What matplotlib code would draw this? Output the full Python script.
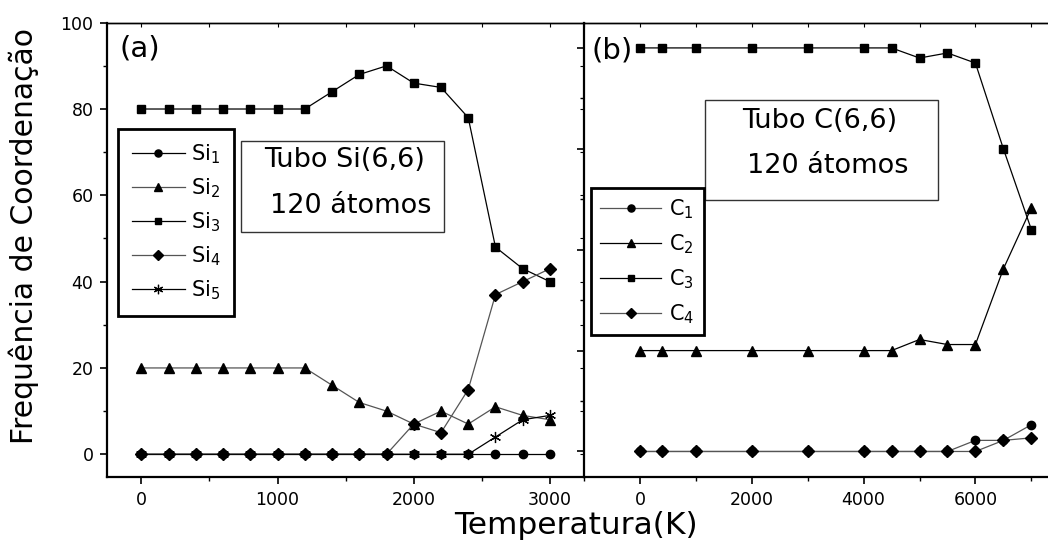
import matplotlib
matplotlib.use('Agg')
import matplotlib.pyplot as plt
from matplotlib.patches import Rectangle
from matplotlib.ticker import MultipleLocator, FixedLocator

plt.rcParams['font.family'] = ['DejaVu Sans']
plt.rcParams['mathtext.fontset'] = 'dejavusans'

# ---------------- data: panel (a) Si(6,6) ----------------
temp_si = [0, 200, 400, 600, 800, 1000, 1200, 1400, 1600, 1800, 2000, 2200, 2400, 2600, 2800, 3000]
si1 = [0, 0, 0, 0, 0, 0, 0, 0, 0, 0, 0, 0, 0, 0, 0, 0]
si2 = [20, 20, 20, 20, 20, 20, 20, 16, 12, 10, 7, 10, 7, 11, 9, 8]
si3 = [80, 80, 80, 80, 80, 80, 80, 84, 88, 90, 86, 85, 78, 48, 43, 40]
si4 = [0, 0, 0, 0, 0, 0, 0, 0, 0, 0, 7, 5, 15, 37, 40, 43]
si5 = [0, 0, 0, 0, 0, 0, 0, 0, 0, 0, 0, 0, 0, 4, 8, 9]
si_labels = ['Si$_1$', 'Si$_2$', 'Si$_3$', 'Si$_4$', 'Si$_5$']

# ---------------- data: panel (b) C(6,6) ----------------
temp_c = [0, 400, 1000, 2000, 3000, 4000, 4500, 5000, 5500, 6000, 6500, 7000]
c1 = [0, 0, 0, 0, 0, 0, 0, 0, 0, 2.2, 2.2, 5.3]
c2 = [20, 20, 20, 20, 20, 20, 20, 22.2, 21.2, 21.2, 36.2, 48.3]
c3 = [80, 80, 80, 80, 80, 80, 80, 78, 79, 77, 60, 44]
c4 = [0, 0, 0, 0, 0, 0, 0, 0, 0, 0, 2.2, 2.7]
c_labels = ['C$_1$', 'C$_2$', 'C$_3$', 'C$_4$']

xticks_a = [0, 1000, 2000, 3000]
xticks_b = [0, 2000, 4000, 6000]
yticks_a = [0, 20, 40, 60, 80, 100]

# ---------------- layout (pixels) ----------------
W, H = 1048, 542
fig = plt.figure(figsize=(W / 100, H / 100), dpi=100)

A_L, A_R, TOP, BOT = 107.3, 584.0, 22.7, 476.7
B_L, B_R = 584.0, 1059.3
ax1 = fig.add_axes([A_L / W, (H - BOT) / H, (A_R - A_L) / W, (BOT - TOP) / H])
ax2 = fig.add_axes([B_L / W, (H - BOT) / H, (B_R - B_L) / W, (BOT - TOP) / H])


def afrac(px, py, left, right):
    return (px - left) / (right - left), (BOT - py) / (BOT - TOP)


lw = 0.9
grey = '#555555'
mk_a = [dict(marker='o', ms=6, color='black'),
        dict(marker='^', ms=7, color=grey, mfc='black', mec='black'),
        dict(marker='s', ms=5.5, color='black'),
        dict(marker='D', ms=5.8, color=grey, mfc='black', mec='black'),
        dict(marker=(6, 2, 0), ms=8, color='black', mew=0.9)]

lines_a = []
for ys, st in zip([si1, si2, si3, si4, si5], mk_a):
    ln, = ax1.plot(temp_si, ys, lw=lw, **st)
    lines_a.append(ln)

mk_b = [dict(marker='o', ms=6, color=grey, mfc='black', mec='black'),
        dict(marker='^', ms=7, color='black'),
        dict(marker='s', ms=5.5, color='black'),
        dict(marker='D', ms=5.8, color=grey, mfc='black', mec='black')]
lines_b = []
for ys, st in zip([c1, c2, c3, c4], mk_b):
    ln, = ax2.plot(temp_c, ys, lw=lw, **st)
    lines_b.append(ln)

# ---------------- axes (a) ----------------
ax1.set_xlim(-250, 3250)
ax1.set_ylim(-5.2, 100)
ax1.set_xticks(xticks_a)
ax1.xaxis.set_minor_locator(FixedLocator([500, 1500, 2500]))
ax1.set_yticks(yticks_a)
ax1.yaxis.set_minor_locator(FixedLocator([10, 30, 50, 70, 90]))
ax1.tick_params(which='major', direction='out', length=5, width=1.2, labelsize=12.5, pad=5)
ax1.tick_params(which='minor', direction='out', length=3, width=1.0)
for s in ['left', 'bottom']:
    ax1.spines[s].set_linewidth(1.6)
ax1.spines['top'].set_linewidth(1.0)
ax1.spines['right'].set_visible(False)

sx = ax1.secondary_xaxis('top')
sx.xaxis.set_major_locator(MultipleLocator(500))
sx.tick_params(direction='in', length=3, width=0.8, labeltop=False)
sx.spines['top'].set_linewidth(1.0)
sy = ax1.secondary_yaxis('right')
sy.yaxis.set_major_locator(MultipleLocator(10))
sy.tick_params(direction='in', length=3, width=0.8, labelright=False)
sy.spines['right'].set_visible(False)

# ---------------- axes (b) ----------------
ax2.set_xlim(-1000, 7500)
ax2.set_ylim(-5, 85)
ax2.set_xticks(xticks_b)
ax2.xaxis.set_minor_locator(FixedLocator([-1000, 1000, 3000, 5000, 7000]))
ax2.set_yticks([0, 20, 40, 60, 80])
ax2.yaxis.set_minor_locator(FixedLocator([10, 30, 50, 70]))
ax2.tick_params(which='major', direction='out', length=5, width=1.2, labelsize=12.5, pad=5, labelleft=False)
ax2.tick_params(which='minor', direction='out', length=3, width=1.0)
for s in ['left', 'bottom']:
    ax2.spines[s].set_linewidth(1.6)
ax2.spines['top'].set_linewidth(1.0)
ax2.spines['right'].set_visible(False)
sx2 = ax2.secondary_xaxis('top')
sx2.xaxis.set_major_locator(MultipleLocator(1000))
sx2.tick_params(direction='in', length=3, width=0.8, labeltop=False)
sx2.spines['top'].set_linewidth(1.0)

# ---------------- legends ----------------
leg1 = ax1.legend(lines_a, si_labels, loc='upper left',
                  bbox_to_anchor=afrac(118, 129, A_L, A_R), borderaxespad=0,
                  fancybox=False, edgecolor='black', framealpha=1, fontsize=15,
                  handlelength=2.55, handletextpad=0.3, labelspacing=0.5,
                  borderpad=0.65, numpoints=1, markerscale=0.85)
leg1.get_frame().set_linewidth(2.0)

leg2 = ax2.legend(lines_b, c_labels, loc='upper left',
                  bbox_to_anchor=afrac(591, 187.7, B_L, B_R), borderaxespad=0,
                  fancybox=False, edgecolor='black', framealpha=1, fontsize=15,
                  handlelength=2.9, handletextpad=0.4, labelspacing=0.55,
                  borderpad=0.45, numpoints=1, markerscale=0.85)
leg2.get_frame().set_linewidth(2.0)

# ---------------- text boxes ----------------
def box(ax, x0, y0, x1, y1, left, right):
    fx0, fy1 = afrac(x0, y1, left, right)
    fx1, fy0 = afrac(x1, y0, left, right)
    ax.add_patch(Rectangle((fx0, fy1), fx1 - fx0, fy0 - fy1, transform=ax.transAxes,
                           fill=False, ec='#333333', lw=1.0, clip_on=False, zorder=5))


box(ax1, 241, 140.7, 444.3, 231.7, A_L, A_R)
ax1.text(*afrac(345, 160, A_L, A_R), 'Tubo Si(6,6)', transform=ax1.transAxes,
         ha='center', va='center', fontsize=19.5)
ax1.text(*afrac(350.5, 206, A_L, A_R), '120 átomos', transform=ax1.transAxes,
         ha='center', va='center', fontsize=19.5)

box(ax2, 705, 100, 937.7, 199.8, B_L, B_R)
ax2.text(*afrac(820, 121, B_L, B_R), 'Tubo C(6,6)', transform=ax2.transAxes,
         ha='center', va='center', fontsize=19.5)
ax2.text(*afrac(827.7, 166, B_L, B_R), '120 átomos', transform=ax2.transAxes,
         ha='center', va='center', fontsize=19.5)

ax1.text(*afrac(120, 48, A_L, A_R), '(a)', transform=ax1.transAxes,
         ha='left', va='center', fontsize=21)
ax2.text(*afrac(591.7, 50.5, B_L, B_R), '(b)', transform=ax2.transAxes,
         ha='left', va='center', fontsize=21)

# ---------------- axis titles ----------------
fig.text(24 / W, (H - 236) / H, 'Frequência de Coordenação', rotation=90,
         ha='center', va='center', fontsize=21.5)
fig.text(576 / W, (H - 534.5) / H, 'Temperatura(K)', ha='center', va='baseline',
         fontsize=22.5)

fig.savefig('out.png', dpi=100)
